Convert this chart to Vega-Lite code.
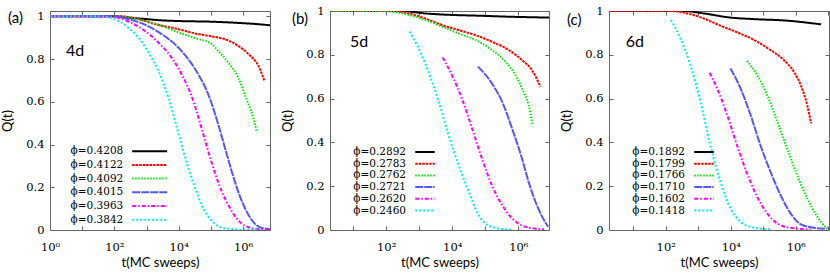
{
"$schema":"https://vega.github.io/schema/vega-lite/v6.json",
"padding":{"left":1,"top":5,"right":1,"bottom":0},
"config":{
 "view":{"stroke":null},
 "axis":{"grid":false,"domainColor":"#666","tickColor":"#666","labelColor":"#000","labelFont":"DejaVu Serif","labelFontSize":11.5,"titleFont":"Lato","titleFontSize":13,"titleFontWeight":"normal","titleColor":"#000","tickSize":-4,"labelFlush":false,"labelOverlap":false},
 "legend":{"orient":"none","symbolType":"M-3,0H3","symbolStrokeWidth":2,"labelFont":"DejaVu Serif","labelFontSize":10.5,"labelColor":"#000","labelAlign":"right","padding":0,"rowPadding":0.7},
 "line":{"strokeWidth":2,"interpolate":"monotone"}
},
"datasets":{
"A":[
{"s":"ϕ=0.4208","t":1,"q":1},{"s":"ϕ=0.4208","t":100,"q":1},{"s":"ϕ=0.4208","t":316,"q":0.993},{"s":"ϕ=0.4208","t":1000,"q":0.987},{"s":"ϕ=0.4208","t":3160,"q":0.981},{"s":"ϕ=0.4208","t":10000,"q":0.978},{"s":"ϕ=0.4208","t":100000,"q":0.975},{"s":"ϕ=0.4208","t":316000,"q":0.972},{"s":"ϕ=0.4208","t":1000000,"q":0.968},{"s":"ϕ=0.4208","t":3160000,"q":0.963},{"s":"ϕ=0.4208","t":6900000,"q":0.958},
{"s":"ϕ=0.4122","t":1,"q":1},{"s":"ϕ=0.4122","t":170,"q":1},{"s":"ϕ=0.4122","t":562,"q":0.987},{"s":"ϕ=0.4122","t":1820,"q":0.964},{"s":"ϕ=0.4122","t":9770,"q":0.940},{"s":"ϕ=0.4122","t":32400,"q":0.920},{"s":"ϕ=0.4122","t":107000,"q":0.906},{"s":"ϕ=0.4122","t":275000,"q":0.893},{"s":"ϕ=0.4122","t":708000,"q":0.862},{"s":"ϕ=0.4122","t":1480000,"q":0.823},{"s":"ϕ=0.4122","t":3020000,"q":0.768},{"s":"ϕ=0.4122","t":4570000,"q":0.700},
{"s":"ϕ=0.4092","t":1,"q":1},{"s":"ϕ=0.4092","t":100,"q":1},{"s":"ϕ=0.4092","t":269,"q":0.995},{"s":"ϕ=0.4092","t":891,"q":0.979},{"s":"ϕ=0.4092","t":2950,"q":0.956},{"s":"ϕ=0.4092","t":9770,"q":0.925},{"s":"ϕ=0.4092","t":32400,"q":0.898},{"s":"ϕ=0.4092","t":107000,"q":0.870},{"s":"ϕ=0.4092","t":170000,"q":0.838},{"s":"ϕ=0.4092","t":347000,"q":0.784},{"s":"ϕ=0.4092","t":708000,"q":0.713},{"s":"ϕ=0.4092","t":1290000,"q":0.611},{"s":"ϕ=0.4092","t":2090000,"q":0.525},{"s":"ϕ=0.4092","t":2630000,"q":0.465},
{"s":"ϕ=0.4015","t":1,"q":1},{"s":"ϕ=0.4015","t":83,"q":1},{"s":"ϕ=0.4015","t":269,"q":0.987},{"s":"ϕ=0.4015","t":891,"q":0.961},{"s":"ϕ=0.4015","t":2950,"q":0.917},{"s":"ϕ=0.4015","t":9770,"q":0.854},{"s":"ϕ=0.4015","t":19950,"q":0.799},{"s":"ϕ=0.4015","t":40700,"q":0.729},{"s":"ϕ=0.4015","t":83200,"q":0.635},{"s":"ϕ=0.4015","t":170000,"q":0.494},{"s":"ϕ=0.4015","t":275000,"q":0.384},{"s":"ϕ=0.4015","t":447000,"q":0.274},{"s":"ϕ=0.4015","t":708000,"q":0.180},{"s":"ϕ=0.4015","t":1150000,"q":0.102},{"s":"ϕ=0.4015","t":1860000,"q":0.047},{"s":"ϕ=0.4015","t":3020000,"q":0.016},{"s":"ϕ=0.4015","t":6900000,"q":0.003},
{"s":"ϕ=0.3963","t":1,"q":1},{"s":"ϕ=0.3963","t":83,"q":0.998},{"s":"ϕ=0.3963","t":269,"q":0.976},{"s":"ϕ=0.3963","t":891,"q":0.932},{"s":"ϕ=0.3963","t":2950,"q":0.862},{"s":"ϕ=0.3963","t":6030,"q":0.807},{"s":"ϕ=0.3963","t":12300,"q":0.729},{"s":"ϕ=0.3963","t":25100,"q":0.627},{"s":"ϕ=0.3963","t":51300,"q":0.478},{"s":"ϕ=0.3963","t":83200,"q":0.368},{"s":"ϕ=0.3963","t":135000,"q":0.266},{"s":"ϕ=0.3963","t":219000,"q":0.180},{"s":"ϕ=0.3963","t":347000,"q":0.118},{"s":"ϕ=0.3963","t":631000,"q":0.055},{"s":"ϕ=0.3963","t":1150000,"q":0.020},{"s":"ϕ=0.3963","t":3020000,"q":0.003},{"s":"ϕ=0.3963","t":6900000,"q":0.001},
{"s":"ϕ=0.3842","t":1,"q":1},{"s":"ϕ=0.3842","t":41,"q":1},{"s":"ϕ=0.3842","t":83,"q":0.992},{"s":"ϕ=0.3842","t":269,"q":0.948},{"s":"ϕ=0.3842","t":562,"q":0.901},{"s":"ϕ=0.3842","t":1150,"q":0.831},{"s":"ϕ=0.3842","t":2340,"q":0.744},{"s":"ϕ=0.3842","t":4790,"q":0.619},{"s":"ϕ=0.3842","t":7760,"q":0.509},{"s":"ϕ=0.3842","t":12300,"q":0.400},{"s":"ϕ=0.3842","t":19950,"q":0.290},{"s":"ϕ=0.3842","t":32400,"q":0.196},{"s":"ϕ=0.3842","t":51300,"q":0.118},{"s":"ϕ=0.3842","t":83200,"q":0.063},{"s":"ϕ=0.3842","t":135000,"q":0.028},{"s":"ϕ=0.3842","t":275000,"q":0.008},{"s":"ϕ=0.3842","t":1150000,"q":0.001},{"s":"ϕ=0.3842","t":4000000,"q":0}
],
"B":[
{"s":"ϕ=0.2892","t":2,"q":1},{"s":"ϕ=0.2892","t":295,"q":1},{"s":"ϕ=0.2892","t":1510,"q":0.989},{"s":"ϕ=0.2892","t":9770,"q":0.982},{"s":"ϕ=0.2892","t":50100,"q":0.979},{"s":"ϕ=0.2892","t":513000,"q":0.974},{"s":"ϕ=0.2892","t":8500000,"q":0.970},
{"s":"ϕ=0.2783","t":2,"q":1},{"s":"ϕ=0.2783","t":148,"q":1},{"s":"ϕ=0.2783","t":479,"q":0.989},{"s":"ϕ=0.2783","t":1510,"q":0.966},{"s":"ϕ=0.2783","t":4900,"q":0.936},{"s":"ϕ=0.2783","t":15500,"q":0.913},{"s":"ϕ=0.2783","t":50100,"q":0.890},{"s":"ϕ=0.2783","t":158000,"q":0.860},{"s":"ϕ=0.2783","t":513000,"q":0.822},{"s":"ϕ=0.2783","t":1290000,"q":0.776},{"s":"ϕ=0.2783","t":2570000,"q":0.731},{"s":"ϕ=0.2783","t":4680000,"q":0.654},
{"s":"ϕ=0.2762","t":2,"q":1},{"s":"ϕ=0.2762","t":100,"q":1},{"s":"ϕ=0.2762","t":148,"q":0.997},{"s":"ϕ=0.2762","t":479,"q":0.982},{"s":"ϕ=0.2762","t":1510,"q":0.959},{"s":"ϕ=0.2762","t":4900,"q":0.929},{"s":"ϕ=0.2762","t":15500,"q":0.898},{"s":"ϕ=0.2762","t":50100,"q":0.868},{"s":"ϕ=0.2762","t":158000,"q":0.822},{"s":"ϕ=0.2762","t":407000,"q":0.769},{"s":"ϕ=0.2762","t":813000,"q":0.708},{"s":"ϕ=0.2762","t":1290000,"q":0.647},{"s":"ϕ=0.2762","t":2040000,"q":0.571},{"s":"ϕ=0.2762","t":2690000,"q":0.482},
{"s":"ϕ=0.2721","t":60300,"q":0.746},{"s":"ϕ=0.2721","t":158000,"q":0.670},{"s":"ϕ=0.2721","t":324000,"q":0.586},{"s":"ϕ=0.2721","t":646000,"q":0.464},{"s":"ϕ=0.2721","t":1290000,"q":0.327},{"s":"ϕ=0.2721","t":2040000,"q":0.221},{"s":"ϕ=0.2721","t":3310000,"q":0.129},{"s":"ϕ=0.2721","t":5250000,"q":0.061},{"s":"ϕ=0.2721","t":8000000,"q":0.015},
{"s":"ϕ=0.2620","t":5130,"q":0.788},{"s":"ϕ=0.2620","t":9770,"q":0.708},{"s":"ϕ=0.2620","t":19500,"q":0.601},{"s":"ϕ=0.2620","t":39800,"q":0.464},{"s":"ϕ=0.2620","t":79400,"q":0.327},{"s":"ϕ=0.2620","t":158000,"q":0.205},{"s":"ϕ=0.2620","t":324000,"q":0.114},{"s":"ϕ=0.2620","t":646000,"q":0.053},{"s":"ϕ=0.2620","t":1620000,"q":0.015},{"s":"ϕ=0.2620","t":4170000,"q":0.005},{"s":"ϕ=0.2620","t":6000000,"q":0.003},
{"s":"ϕ=0.2460","t":513,"q":0.906},{"s":"ϕ=0.2460","t":955,"q":0.830},{"s":"ϕ=0.2460","t":1905,"q":0.723},{"s":"ϕ=0.2460","t":3890,"q":0.586},{"s":"ϕ=0.2460","t":7760,"q":0.434},{"s":"ϕ=0.2460","t":15500,"q":0.297},{"s":"ϕ=0.2460","t":31600,"q":0.175},{"s":"ϕ=0.2460","t":63100,"q":0.068},{"s":"ϕ=0.2460","t":126000,"q":0.020},{"s":"ϕ=0.2460","t":324000,"q":0.005},{"s":"ϕ=0.2460","t":646000,"q":0.001}
],
"C":[
{"s":"ϕ=0.1892","t":1.8,"q":1},{"s":"ϕ=0.1892","t":355,"q":1},{"s":"ϕ=0.1892","t":1480,"q":0.989},{"s":"ϕ=0.1892","t":9770,"q":0.970},{"s":"ϕ=0.1892","t":51300,"q":0.963},{"s":"ϕ=0.1892","t":537000,"q":0.956},{"s":"ϕ=0.1892","t":6030000,"q":0.939},
{"s":"ϕ=0.1799","t":1.8,"q":1},{"s":"ϕ=0.1799","t":138,"q":1},{"s":"ϕ=0.1799","t":457,"q":0.989},{"s":"ϕ=0.1799","t":1480,"q":0.966},{"s":"ϕ=0.1799","t":4790,"q":0.933},{"s":"ϕ=0.1799","t":15500,"q":0.903},{"s":"ϕ=0.1799","t":51300,"q":0.868},{"s":"ϕ=0.1799","t":166000,"q":0.822},{"s":"ϕ=0.1799","t":427000,"q":0.776},{"s":"ϕ=0.1799","t":871000,"q":0.723},{"s":"ϕ=0.1799","t":1550000,"q":0.647},{"s":"ϕ=0.1799","t":2240000,"q":0.571},{"s":"ϕ=0.1799","t":2950000,"q":0.487},
{"s":"ϕ=0.1766","t":31600,"q":0.772},{"s":"ϕ=0.1766","t":64600,"q":0.708},{"s":"ϕ=0.1766","t":132000,"q":0.616},{"s":"ϕ=0.1766","t":269000,"q":0.495},{"s":"ϕ=0.1766","t":537000,"q":0.373},{"s":"ϕ=0.1766","t":1100000,"q":0.251},{"s":"ϕ=0.1766","t":2240000,"q":0.145},{"s":"ϕ=0.1766","t":4570000,"q":0.061},{"s":"ϕ=0.1766","t":8710000,"q":0.011},{"s":"ϕ=0.1766","t":10500000,"q":0.004},
{"s":"ϕ=0.1710","t":9770,"q":0.738},{"s":"ϕ=0.1710","t":19950,"q":0.647},{"s":"ϕ=0.1710","t":40700,"q":0.525},{"s":"ϕ=0.1710","t":81300,"q":0.388},{"s":"ϕ=0.1710","t":166000,"q":0.266},{"s":"ϕ=0.1710","t":339000,"q":0.160},{"s":"ϕ=0.1710","t":692000,"q":0.076},{"s":"ϕ=0.1710","t":1380000,"q":0.027},{"s":"ϕ=0.1710","t":3550000,"q":0.010},{"s":"ϕ=0.1710","t":8710000,"q":0.005},
{"s":"ϕ=0.1602","t":2240,"q":0.718},{"s":"ϕ=0.1602","t":3800,"q":0.647},{"s":"ϕ=0.1602","t":7760,"q":0.525},{"s":"ϕ=0.1602","t":15500,"q":0.388},{"s":"ϕ=0.1602","t":31600,"q":0.259},{"s":"ϕ=0.1602","t":64600,"q":0.152},{"s":"ϕ=0.1602","t":132000,"q":0.076},{"s":"ϕ=0.1602","t":269000,"q":0.030},{"s":"ϕ=0.1602","t":692000,"q":0.010},{"s":"ϕ=0.1602","t":2820000,"q":0.003},
{"s":"ϕ=0.1418","t":145,"q":0.959},{"s":"ϕ=0.1418","t":282,"q":0.875},{"s":"ϕ=0.1418","t":575,"q":0.753},{"s":"ϕ=0.1418","t":1175,"q":0.586},{"s":"ϕ=0.1418","t":2340,"q":0.388},{"s":"ϕ=0.1418","t":4790,"q":0.221},{"s":"ϕ=0.1418","t":9770,"q":0.099},{"s":"ϕ=0.1418","t":19950,"q":0.038},{"s":"ϕ=0.1418","t":51300,"q":0.011},{"s":"ϕ=0.1418","t":166000,"q":0.003}
]
},
"hconcat":[
{
 "width":220,"height":219,
 "layer":[
  {"data":{"name":"A"},"mark":{"type":"line","clip":true},
   "encoding":{
    "x":{"field":"t","type":"quantitative","scale":{"type":"log","domain":[1,6900000],"nice":false},
      "axis":{"values":[1,10,100,1000,10000,100000,1000000],"labelExpr":"datum.value==1?'10⁰':datum.value==100?'10²':datum.value==10000?'10⁴':datum.value==1000000?'10⁶':''","labelBaseline":"alphabetic","labelPadding":24,"title":"t(MC sweeps)","titleY":36,"titleBaseline":"alphabetic"}},
    "y":{"field":"q","type":"quantitative","scale":{"domain":[0,1.025],"nice":false},
      "axis":{"values":[0,0.2,0.4,0.6,0.8,1],"format":".1~f","labelPadding":10,"title":"Q(t)","titleX":-36,"titleY":109.5,"titleBaseline":"bottom","titleAlign":"center"}},
    "color":{"field":"s","type":"nominal","scale":{"domain":["ϕ=0.4208","ϕ=0.4122","ϕ=0.4092","ϕ=0.4015","ϕ=0.3963","ϕ=0.3842"],"range":["#000000","#ff0000","#00e600","#5555ff","#ff00ff","#00eeee"]},
      "legend":{"title":null,"legendX":92.7,"legendY":133.2,"symbolSize":136,"labelOffset":-33.4}},
    "strokeDash":{"field":"s","type":"nominal","scale":{"domain":["ϕ=0.4208","ϕ=0.4122","ϕ=0.4092","ϕ=0.4015","ϕ=0.3963","ϕ=0.3842"],"range":[[1,0],[2.5,1],[1.5,1.5],[8,1],[4,2,1.5,2],[2,2]]},
      "legend":{"title":null,"legendX":92.7,"legendY":133.2,"symbolSize":136,"labelOffset":-33.4}}
   }},
  {"data":{"values":[{}]},"mark":{"type":"text","font":"Lato","fontSize":16,"align":"left","baseline":"middle"},
   "encoding":{
    "x":{"datum":3.14,"type":"quantitative","scale":{"type":"log"},"axis":{"orient":"top","values":[1,10,100,1000,10000,100000,1000000],"labels":false,"title":null,"minExtent":0}},
    "y":{"datum":0.838,"type":"quantitative","axis":{"orient":"right","values":[0,0.2,0.4,0.6,0.8,1],"labels":false,"title":null,"minExtent":0}},
    "text":{"value":"4d"}}},
  {"data":{"values":[{}]},"mark":{"type":"text","font":"Lato","fontSize":15,"align":"left","baseline":"middle","clip":false},
   "encoding":{
    "x":{"datum":0.0495,"type":"quantitative","axis":null},
    "y":{"datum":0.992,"type":"quantitative","axis":null},
    "text":{"value":"(a)"}}}
 ],
 "resolve":{"axis":{"x":"independent","y":"independent"}}
},
{
 "width":219,"height":219,
 "layer":[
  {"data":{"name":"B"},"mark":{"type":"line","clip":true},
   "encoding":{
    "x":{"field":"t","type":"quantitative","scale":{"type":"log","domain":[2,8500000],"nice":false},
      "axis":{"values":[10,100,1000,10000,100000,1000000],"labelExpr":"datum.value==100?'10²':datum.value==10000?'10⁴':datum.value==1000000?'10⁶':''","labelBaseline":"alphabetic","labelPadding":24,"title":"t(MC sweeps)","titleY":36,"titleBaseline":"alphabetic"}},
    "y":{"field":"q","type":"quantitative","scale":{"domain":[0,1],"nice":false},
      "axis":{"values":[0,0.2,0.4,0.6,0.8,1],"format":".1~f","labelPadding":10,"title":"Q(t)","titleX":-36,"titleY":109.5,"titleBaseline":"bottom","titleAlign":"center"}},
    "color":{"field":"s","type":"nominal","scale":{"domain":["ϕ=0.2892","ϕ=0.2783","ϕ=0.2762","ϕ=0.2721","ϕ=0.2620","ϕ=0.2460"],"range":["#000000","#ff0000","#00e600","#5555ff","#ff00ff","#00eeee"]},
      "legend":{"title":null,"legendX":89.75,"legendY":135.75,"symbolSize":42.25,"labelOffset":-24.25}},
    "strokeDash":{"field":"s","type":"nominal","scale":{"domain":["ϕ=0.2892","ϕ=0.2783","ϕ=0.2762","ϕ=0.2721","ϕ=0.2620","ϕ=0.2460"],"range":[[1,0],[2.5,1],[1.5,1.5],[8,1],[4,2,1.5,2],[2,2]]},
      "legend":{"title":null,"legendX":89.75,"legendY":135.75,"symbolSize":42.25,"labelOffset":-24.25}}
   }},
  {"data":{"values":[{}]},"mark":{"type":"text","font":"Lato","fontSize":16,"align":"left","baseline":"middle"},
   "encoding":{
    "x":{"datum":8.06,"type":"quantitative","scale":{"type":"log"},"axis":{"orient":"top","values":[10,100,1000,10000,100000,1000000],"labels":false,"title":null,"minExtent":0}},
    "y":{"datum":0.858,"type":"quantitative","axis":{"orient":"right","values":[0,0.2,0.4,0.6,0.8,1],"labels":false,"title":null,"minExtent":0}},
    "text":{"value":"5d"}}},
  {"data":{"values":[{}]},"mark":{"type":"text","font":"Lato","fontSize":15,"align":"left","baseline":"middle","clip":false},
   "encoding":{
    "x":{"datum":0.1416,"type":"quantitative","axis":null},
    "y":{"datum":0.963,"type":"quantitative","axis":null},
    "text":{"value":"(b)"}}}
 ],
 "resolve":{"axis":{"x":"independent","y":"independent"}}
},
{
 "width":220,"height":219,
 "layer":[
  {"data":{"name":"C"},"mark":{"type":"line","clip":true},
   "encoding":{
    "x":{"field":"t","type":"quantitative","scale":{"type":"log","domain":[1.8,10500000],"nice":false},
      "axis":{"values":[10,100,1000,10000,100000,1000000,10000000],"labelExpr":"datum.value==100?'10²':datum.value==10000?'10⁴':datum.value==1000000?'10⁶':''","labelBaseline":"alphabetic","labelPadding":24,"title":"t(MC sweeps)","titleY":36,"titleBaseline":"alphabetic"}},
    "y":{"field":"q","type":"quantitative","scale":{"domain":[0,1],"nice":false},
      "axis":{"values":[0,0.2,0.4,0.6,0.8,1],"format":".1~f","labelPadding":10,"title":"Q(t)","titleX":-36,"titleY":109.5,"titleBaseline":"bottom","titleAlign":"center"}},
    "color":{"field":"s","type":"nominal","scale":{"domain":["ϕ=0.1892","ϕ=0.1799","ϕ=0.1766","ϕ=0.1710","ϕ=0.1602","ϕ=0.1418"],"range":["#000000","#ff0000","#00e600","#5555ff","#ff00ff","#00eeee"]},
      "legend":{"title":null,"legendX":89.75,"legendY":135.75,"symbolSize":42.25,"labelOffset":-24.25}},
    "strokeDash":{"field":"s","type":"nominal","scale":{"domain":["ϕ=0.1892","ϕ=0.1799","ϕ=0.1766","ϕ=0.1710","ϕ=0.1602","ϕ=0.1418"],"range":[[1,0],[2.5,1],[1.5,1.5],[8,1],[4,2,1.5,2],[2,2]]},
      "legend":{"title":null,"legendX":89.75,"legendY":135.75,"symbolSize":42.25,"labelOffset":-24.25}}
   }},
  {"data":{"values":[{}]},"mark":{"type":"text","font":"Lato","fontSize":16,"align":"left","baseline":"middle"},
   "encoding":{
    "x":{"datum":5.88,"type":"quantitative","scale":{"type":"log"},"axis":{"orient":"top","values":[10,100,1000,10000,100000,1000000,10000000],"labels":false,"title":null,"minExtent":0}},
    "y":{"datum":0.858,"type":"quantitative","axis":{"orient":"right","values":[0,0.2,0.4,0.6,0.8,1],"labels":false,"title":null,"minExtent":0}},
    "text":{"value":"6d"}}},
  {"data":{"values":[{}]},"mark":{"type":"text","font":"Lato","fontSize":15,"align":"left","baseline":"middle","clip":false},
   "encoding":{
    "x":{"datum":0.092,"type":"quantitative","axis":null},
    "y":{"datum":0.959,"type":"quantitative","axis":null},
    "text":{"value":"(c)"}}}
 ],
 "resolve":{"axis":{"x":"independent","y":"independent"}}
}
],
"spacing":60,
"bounds":"flush",
"resolve":{"scale":{"color":"independent","strokeDash":"independent"},"legend":{"color":"independent","strokeDash":"independent"}}
}
